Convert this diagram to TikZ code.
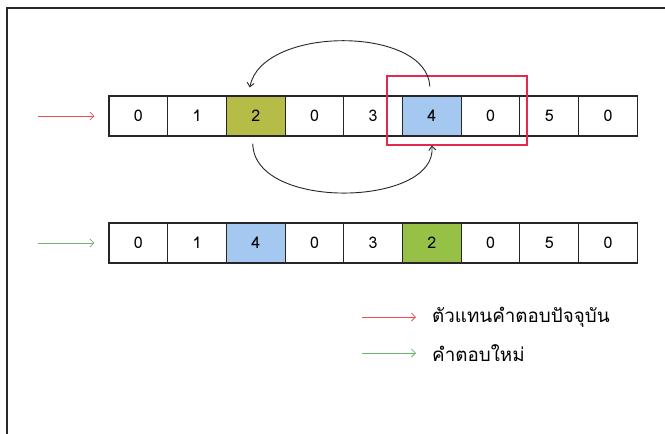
\documentclass[tikz,border=0pt]{standalone}
\usepackage{fontspec}
\newfontfamily\thaifont[Script=Thai]{Loma}
\usetikzlibrary{arrows.meta,calc}
\definecolor{cellgreenA}{RGB}{181,189,70}
\definecolor{cellgreenB}{RGB}{150,192,70}
\definecolor{cellblue}{RGB}{164,200,240}
\definecolor{boxred}{RGB}{228,40,80}
\definecolor{arrred}{RGB}{232,80,80}
\definecolor{arrgreen}{RGB}{110,180,110}
\definecolor{frame}{RGB}{40,40,40}
\begin{document}
\begin{tikzpicture}[x=1pt,y=-1pt,
  cell/.style={draw=black!85,line width=1.1pt,minimum width=58.7pt,minimum height=40pt,inner sep=0pt,font=\thaifont\fontsize{16}{16}\selectfont},
  sidearrow/.style={line width=0.8pt,-{Straight Barb[length=4pt,width=8pt]}},
  swaparc/.style={line width=0.9pt,black!85,-{Straight Barb[length=4pt,width=7pt]}},
  legtext/.style={anchor=west,inner sep=0pt,font=\thaifont\fontsize{18.8}{18.8}\selectfont}]
\useasboundingbox (0,0) rectangle (665,434);
\fill[white] (0,0) rectangle (665,434);
% frame
\draw[frame,line width=1.4pt] (7,434) -- (7,8) -- (665,8);
% top row
\foreach \v/\c [count=\i from 0] in {0/white,1/white,2/cellgreenA,0/white,3/white,4/cellblue,0/white,5/white,0/white}{
  \node[cell,fill=\c] (a\i) at ({109+58.7*(\i+0.5)},116) {\v};
}
\foreach \v/\c [count=\i from 0] in {0/white,1/white,4/cellblue,0/white,3/white,2/cellgreenB,0/white,5/white,0/white}{
  \node[cell,fill=\c] (b\i) at ({109+58.7*(\i+0.5)},243) {\v};
}
% red box
\node[draw=boxred,line width=1.2pt,minimum width=140pt,minimum height=69pt,inner sep=0pt] (rbox) at (457,110.5) {};
% side arrows
\coordinate (ra) at (38,116);
\coordinate (ga) at (38,243);
\draw[sidearrow,arrred] (ra) -- ($(a0.west)+(-14,0)$);
\draw[sidearrow,arrgreen] (ga) -- ($(b0.west)+(-14,0)$);
% swap arcs
\draw[swaparc] ($(a5.north)+(-2,-9)$) .. controls ($(a5.north)+(-5,-70)$) and ($(a2.north)+(6,-70)$) .. ($(a2.north)+(-6,-8)$);
\draw[swaparc] ($(a2.south)+(-3,7)$) .. controls ($(a2.south)+(-2,75)$) and ($(a5.south)+(6,70)$) .. ($(a5.south)+(0,9)$);
% legend
\coordinate (l1) at (362,317);
\coordinate (l2) at (362,353);
\node[legtext] (t1) at (432,317) {ตัวแทนคำตอบปัจจุบัน};
\node[legtext] (t2) at (432,353) {คำตอบใหม่};
\draw[sidearrow,arrred] (l1) -- ($(t1.west)+(-16,0)$);
\draw[sidearrow,arrgreen] (l2) -- ($(t2.west)+(-16,0)$);
\end{tikzpicture}
\end{document}
